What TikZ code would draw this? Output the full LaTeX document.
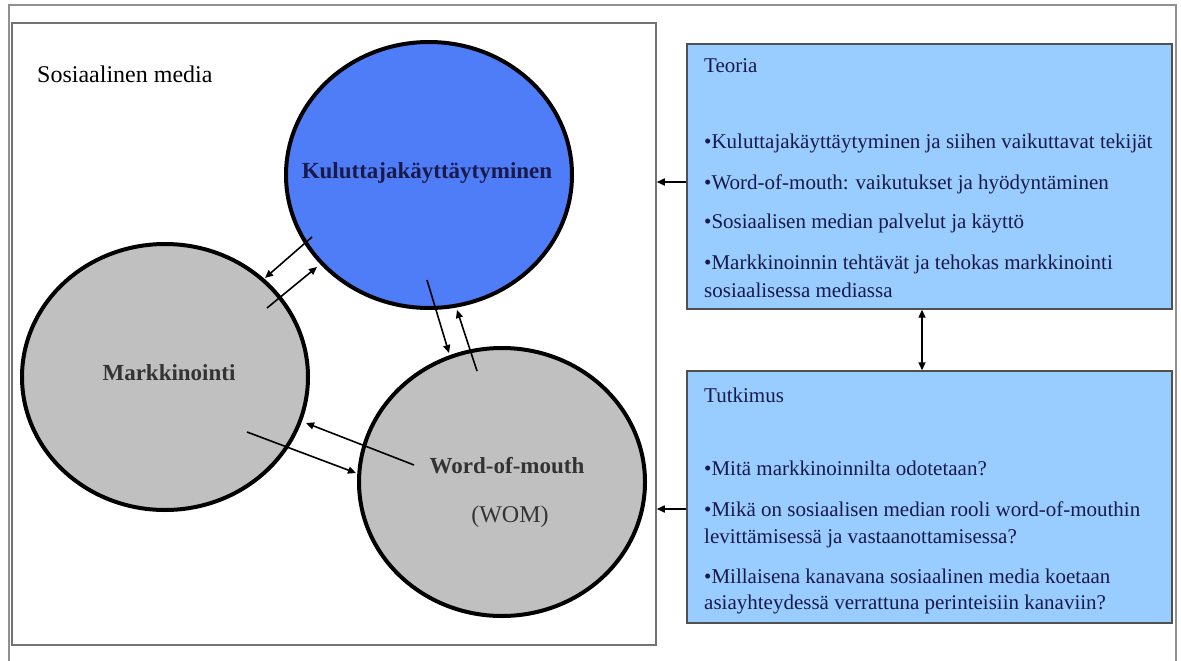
\documentclass[tikz,border=0pt]{standalone}
\usepackage{fontspec}
\setmainfont{Liberation Serif}
\usetikzlibrary{arrows.meta,shapes.geometric,calc}
\definecolor{boxblue}{HTML}{99CCFF}
\definecolor{circblue}{HTML}{4F7CF7}
\definecolor{circgray}{HTML}{C0C0C0}
\definecolor{navy}{HTML}{1A1A4A}
\definecolor{frame}{HTML}{909090}
\definecolor{boxline}{HTML}{505050}
\tikzset{
  circ/.style={ellipse, draw=black, line width=4pt, inner sep=0pt, minimum width=286pt},
  infobox/.style={draw=boxline, line width=1.4pt, fill=boxblue, inner sep=0pt, minimum width=485pt},
  arr/.style={-{Triangle[length=8pt,width=7pt]}, line width=1.6pt},
  dblarr/.style={{Triangle[length=8pt,width=7pt]}-{Triangle[length=8pt,width=7pt]}, line width=1.4pt},
  clabel/.style={font=\fontsize{23}{27}\selectfont\bfseries, text=black!80, anchor=base, inner sep=0pt},
  btext/.style={font=\fontsize{21}{27}\selectfont, text=navy, anchor=base west, inner sep=0pt},
}
\begin{document}
\begin{tikzpicture}[x=1pt,y=-1pt]
\useasboundingbox (0,0) rectangle (1181,661);
% outer frame
\draw[frame, line width=2pt] (9,661) -- (9,5) -- (1176,5) -- (1176,661);
% left box
\node[draw=frame!80!black, line width=1.5pt, minimum width=644pt, minimum height=622pt, inner sep=0pt] (mainbox) at (334,334) {};
\node[font=\fontsize{24}{28}\selectfont, anchor=base west, inner sep=0pt] (som) at (37,83) {Sosiaalinen media};
% circles
\node[circ, fill=circgray, minimum height=266pt] (mark) at (165,377) {};
\node[circ, fill=circgray, minimum height=268pt] (wom) at (502,482) {};
\node[circ, fill=circblue, minimum height=266pt] (kul) at (429,175) {};
\node[clabel, text=navy] (kullab) at (427,178) {Kuluttajakäyttäytyminen};
\node[clabel] (marklab) at (169,380) {Markkinointi};
\node[clabel] (womlab) at (507,473) {Word-of-mouth};
\node[clabel, font=\fontsize{24}{28}\selectfont] (womlab2) at (510,522) {(WOM)};
% arrows between circles
\coordinate (a1) at (312,237); \coordinate (a2) at (265,278);
\coordinate (b1) at (267,308); \coordinate (b2) at (317,267);
\coordinate (c1) at (427,280); \coordinate (c2) at (449,353);
\coordinate (d1) at (477,371); \coordinate (d2) at (457,310);
\coordinate (e1) at (414,465); \coordinate (e2) at (306,423);
\coordinate (f1) at (247,432); \coordinate (f2) at (356,473);
\draw[arr] (a1) -- (a2);
\draw[arr] (b1) -- (b2);
\draw[arr] (c1) -- (c2);
\draw[arr] (d1) -- (d2);
\draw[arr] (e1) -- (e2);
\draw[arr] (f1) -- (f2);
% right boxes
\node[infobox, minimum height=265pt] (teoria) at (929.5,176.5) {};
\node[infobox, minimum height=252pt] (tutk) at (929.5,497) {};
\node[btext] (t0) at (704,73) {Teoria};
\node[btext] (t1) at (704,148) {•Kuluttajakäyttäytyminen ja siihen vaikuttavat tekijät};
\node[btext] (t2) at (704,189) {•Word-of-mouth: vaikutukset ja hyödyntäminen};
\node[btext] (t3) at (704,228) {•Sosiaalisen median palvelut ja käyttö};
\node[btext] (t4) at (704,269) {•Markkinoinnin tehtävät ja tehokas markkinointi};
\node[btext] (t5) at (704,297) {sosiaalisessa mediassa};
\node[btext] (u0) at (704,402) {Tutkimus};
\node[btext] (u1) at (704,475) {•Mitä markkinoinnilta odotetaan?};
\node[btext] (u2) at (704,516) {•Mikä on sosiaalisen median rooli word-of-mouthin};
\node[btext] (u3) at (704,543) {levittämisessä ja vastaanottamisessa?};
\node[btext] (u4) at (704,583) {•Millaisena kanavana sosiaalinen media koetaan};
\node[btext] (u5) at (704,609) {asiayhteydessä verrattuna perinteisiin kanaviin?};
% box arrows
\draw[arr] ([yshift=-5.5pt]teoria.west) -- ([yshift=-5.5pt]teoria.west -| mainbox.east);
\draw[arr] ([yshift=-12pt]tutk.west) -- ([yshift=-12pt]tutk.west -| mainbox.east);
\draw[dblarr] ([xshift=-7.5pt]teoria.south) -- ([xshift=-7.5pt]tutk.north);
\end{tikzpicture}
\end{document}
